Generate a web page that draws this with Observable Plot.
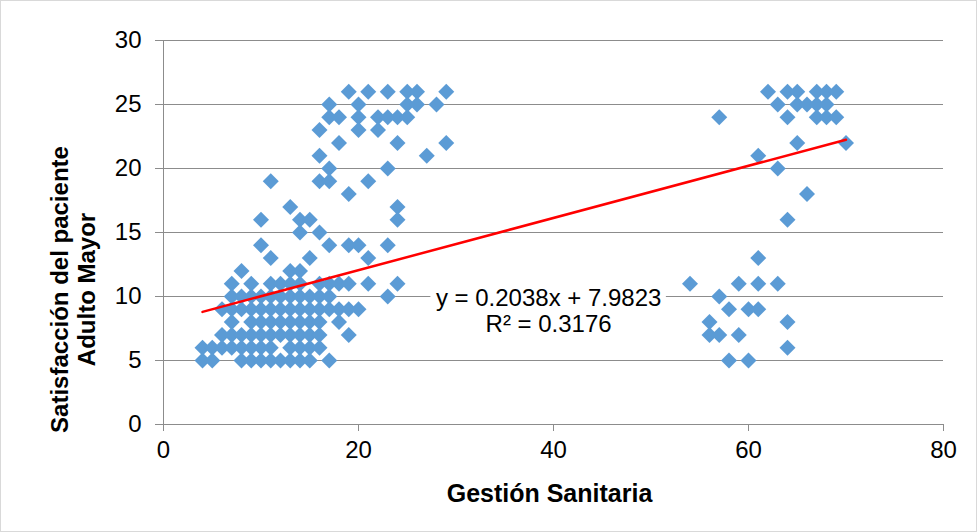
<!DOCTYPE html>
<html>
<head>
<meta charset="utf-8">
<script src="https://cdn.jsdelivr.net/npm/d3@7"></script>
<script src="https://cdn.jsdelivr.net/npm/@observablehq/plot@0.6"></script>
<style>
  body { margin: 0; background: #fff; }
  #chart svg { display: block; outline: 1px solid #d9d9d9; outline-offset: -1px; }
</style>
</head>
<body>
<div id="chart"></div>
<script>
// ---- Data ----
const xTicks = [0, 20, 40, 60, 80];
const yTicks = [0, 5, 10, 15, 20, 25, 30];
const xTitle = "Gestión Sanitaria";
const yTitleLines = ["Satisfacción del paciente", "Adulto Mayor"];

// Satisfaction levels and the Gestión Sanitaria scores observed at each level
const satisfaccionLevels = [26, 25, 24, 23, 22, 21, 20, 19, 18, 17, 16, 15, 14, 13, 12, 11, 10, 9, 8, 7, 6, 5];
const gestionLeftGroup = [
  [19, 21, 23, 25, 26, 29],
  [17, 20, 25, 26, 28],
  [17, 18, 20, 22, 23, 24, 25],
  [16, 20, 22],
  [18, 24, 29],
  [16, 27],
  [17, 23],
  [11, 16, 17, 21],
  [19],
  [13, 24],
  [10, 14, 15, 24],
  [14, 16],
  [10, 17, 19, 20, 23],
  [11, 15, 21],
  [8, 13, 14],
  [7, 9, 11, 12, 13, 14, 16, 17, 18, 19, 21, 24],
  [7, 8, 9, 10, 11, 12, 13, 14, 15, 16, 17, 23],
  [6, 7, 8, 9, 10, 11, 12, 13, 14, 15, 16, 17, 18, 19, 20],
  [7, 9, 10, 11, 12, 13, 14, 15, 16, 18],
  [6, 7, 8, 9, 10, 11, 12, 13, 14, 15, 16, 19],
  [4, 5, 6, 7, 8, 9, 10, 11, 13, 14, 15, 16],
  [4, 5, 8, 9, 10, 11, 12, 13, 14, 15, 17]
];
const gestionRightGroup = [
  [62, 64, 65, 67, 68, 69],
  [63, 65, 66, 67, 68],
  [57, 64, 67, 68, 69],
  [],
  [65, 70],
  [61],
  [63],
  [],
  [66],
  [],
  [64],
  [],
  [],
  [61],
  [],
  [54, 59, 61, 63],
  [57],
  [58, 60, 61],
  [56, 64],
  [56, 57, 59],
  [64],
  [58, 60]
];

// Linear trendline reported on the chart
const trendSlope = 0.2038;
const trendIntercept = 7.9823;
const trendLabel = ["y = 0.2038x + 7.9823", "R² = 0.3176"];
const trendLabelPos = { x: 39.5, y: 8.9 };

// ---- Build ----
const points = satisfaccionLevels.flatMap((y, i) =>
  [...gestionLeftGroup[i], ...gestionRightGroup[i]].map(x => ({ x, y }))
);
const xExtent = d3.extent(points, d => d.x);
const trend = xExtent.map(x => ({ x, y: trendSlope * x + trendIntercept }));

const grid = "#8c8c8c";
const font = "'Liberation Sans', Arial, sans-serif";

const chart = Plot.plot({
  width: 977,
  height: 532,
  marginLeft: 163,
  marginRight: 34,
  marginTop: 40,
  marginBottom: 108,
  style: { fontFamily: font, fontSize: "24px", color: "black", background: "white" },
  x: { domain: [0, 80] },
  y: { domain: [0, 30] },
  marks: [
    Plot.ruleY(yTicks, { stroke: grid, strokeWidth: 1 }),
    Plot.ruleX([0], { stroke: grid, strokeWidth: 1 }),
    Plot.axisX(xTicks, { tickSize: 7, tickPadding: 9, stroke: grid, fill: "black", fontSize: 24, label: null }),
    Plot.axisY(yTicks, { tickSize: 8, tickPadding: 14, stroke: grid, fill: "black", fontSize: 24, label: null }),
    Plot.dot(points, { x: "x", y: "y", symbol: "diamond2", r: 7.2, fill: "#5B9BD5", stroke: "none" }),
    Plot.line(trend, { x: "x", y: "y", stroke: "#FF0000", strokeWidth: 2.5 }),
    Plot.text([trendLabel.join("\n")], {
      x: trendLabelPos.x, y: trendLabelPos.y, fontSize: 24, lineHeight: 1.08,
      fill: "black", className: "trendlabel"
    }),
    Plot.text([xTitle], {
      frameAnchor: "bottom", textAnchor: "middle", lineAnchor: "middle",
      dx: -4, dy: 69, fontSize: 25, fontWeight: "bold", fill: "black"
    }),
    Plot.text([yTitleLines[0]], {
      frameAnchor: "left", textAnchor: "middle", lineAnchor: "middle", rotate: -90,
      dx: -103, dy: 57, fontSize: 24, fontWeight: "bold", fill: "black"
    }),
    Plot.text([yTitleLines[1]], {
      frameAnchor: "left", textAnchor: "middle", lineAnchor: "middle", rotate: -90,
      dx: -76, dy: 57, fontSize: 24, fontWeight: "bold", fill: "black"
    })
  ]
});

document.getElementById("chart").appendChild(chart);

// white box behind the trendline label (like the spreadsheet label background)
const labelG = chart.querySelector("g.trendlabel");
if (labelG) {
  const bb = labelG.getBBox();
  const rect = document.createElementNS("http://www.w3.org/2000/svg", "rect");
  rect.setAttribute("x", bb.x - 5);
  rect.setAttribute("y", bb.y - 2);
  rect.setAttribute("width", bb.width + 10);
  rect.setAttribute("height", bb.height + 4);
  rect.setAttribute("fill", "white");
  labelG.parentNode.insertBefore(rect, labelG);
}
</script>
</body>
</html>
